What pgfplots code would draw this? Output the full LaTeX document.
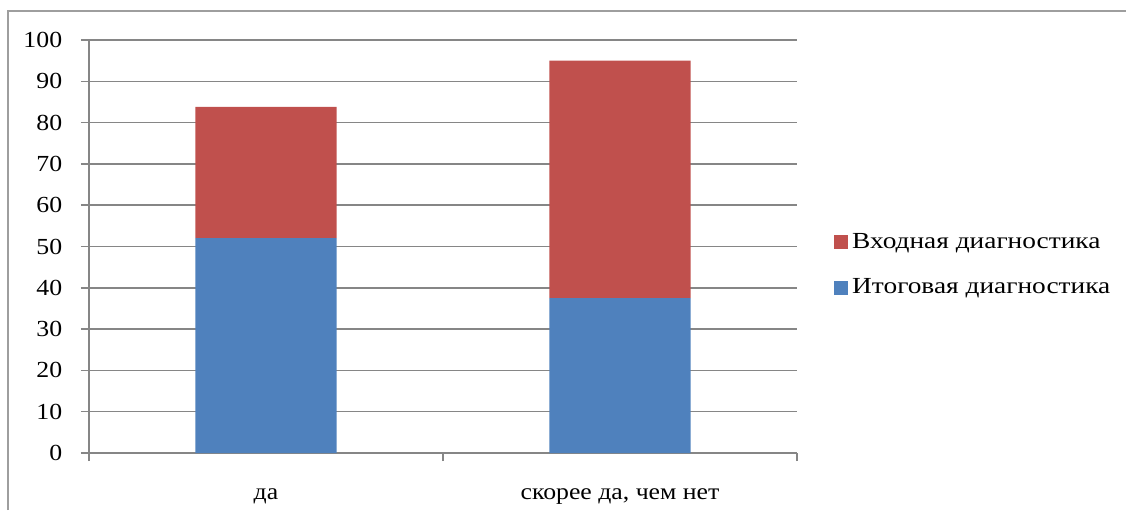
\documentclass[border=0pt]{standalone}
\usepackage{fontspec}
\setmainfont{Liberation Serif}[FakeStretch=1.12]
\newfontfamily\legfont{Liberation Serif}[FakeStretch=1.19]
\usepackage{pgfplots}
\pgfplotsset{compat=1.18}
\definecolor{bluebar}{HTML}{4F81BD}
\definecolor{redbar}{HTML}{C0504D}
\definecolor{axisgray}{HTML}{868686}
\begin{document}
\fontsize{11.5}{13.5}\selectfont
\begin{tikzpicture}
\useasboundingbox (0pt,0pt) rectangle (563pt,-255pt);
% outer frame (left and top edges only are visible)
\draw[axisgray!80, line width=0.6pt] (4pt,-255pt) -- (4pt,-5.5pt) -- (563pt,-5.5pt);
\begin{axis}[
    at={(44.5pt,-226.5pt)}, anchor=south west,
    scale only axis,
    width=354pt, height=206.5pt,
    ybar stacked,
    bar width=70.5pt,
    xmin=-0.5, xmax=1.5,
    ymin=0, ymax=100,
    ytick={0,10,...,100},
    xtick={-0.5,0.5,1.5},
    xticklabels={},
    extra x ticks={0,1},
    extra x tick labels={да,{скорее да, чем нет}},
    extra x tick style={major tick length=0pt, tick style={draw=none},
        xticklabel style={yshift=-14pt}},
    axis x line*=bottom,
    axis y line*=left,
    axis line style={axisgray, line width=0.75pt},
    tick style={axisgray, line width=0.75pt},
    tick align=outside,
    major tick length=4pt,
    ymajorgrids,
    grid style={axisgray, line width=0.75pt},
    yticklabel style={xshift=-5.4pt},
    /pgf/number format/assume math mode=true,
    legend cell align=left,
    reverse legend,
    legend style={at={(rel axis cs:1.052,0.455)}, anchor=west, font=\legfont,
        draw=none, fill=none, inner sep=0pt, row sep=9.5pt},
    legend image code/.code={\fill[#1] (0pt,-3.5pt) rectangle (7pt,3.5pt);},
]
\addplot[fill=bluebar, draw=none] coordinates {(0,52) (1,37.5)};
\addplot[fill=redbar, draw=none] coordinates {(0,31.8) (1,57.5)};
\legend{Итоговая диагностика, Входная диагностика}
\end{axis}
\end{tikzpicture}
\end{document}
